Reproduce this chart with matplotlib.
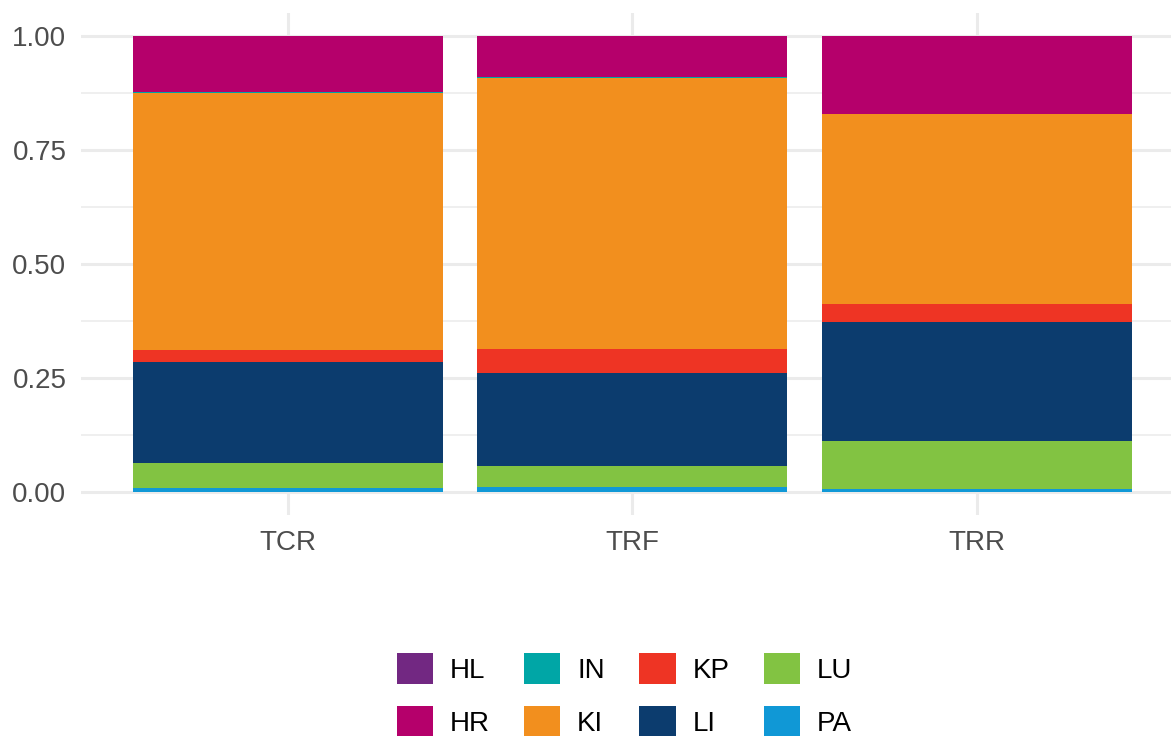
import matplotlib
matplotlib.use("Agg")
import matplotlib.pyplot as plt
import numpy as np

plt.rcParams['font.family'] = ['Liberation Sans', 'DejaVu Sans']

# data: share of each class per group (stacked to 1)
groups = ['TCR', 'TRF', 'TRR']
classes = ['HL', 'HR', 'IN', 'KI', 'KP', 'LI', 'LU', 'PA']
shares = {
    'HL': [0.001, 0.001, 0.001],
    'HR': [0.122, 0.090, 0.169],
    'IN': [0.002, 0.002, 0.002],
    'KI': [0.564, 0.593, 0.416],
    'KP': [0.027, 0.054, 0.039],
    'LI': [0.220, 0.203, 0.261],
    'LU': [0.055, 0.046, 0.105],
    'PA': [0.009, 0.011, 0.007],
}
colors = {
    'HL': '#722882', 'HR': '#B5006B', 'IN': '#00A6A6', 'KI': '#F28F1E',
    'KP': '#EE3424', 'LI': '#0C3C6E', 'LU': '#82C342', 'PA': '#1098D6',
}
y_ticks = [0.0, 0.25, 0.5, 0.75, 1.0]
y_tick_labels = ['0.00', '0.25', '0.50', '0.75', '1.00']

fig = plt.figure(figsize=(11.71, 7.37), dpi=100)
ax = fig.add_axes([81 / 1171, 1 - 514.8 / 737, 1 - 81 / 1171, (514.8 - 13.2) / 737])

x = np.arange(1, len(groups) + 1)
bottom = np.zeros(len(groups))
handles = {}
# ggplot stacks the last level at the bottom
for c in reversed(classes):
    vals = np.array(shares[c])
    handles[c] = ax.bar(x, vals, width=0.9, bottom=bottom, color=colors[c],
                        linewidth=0, zorder=3)
    bottom += vals

ax.set_xlim(0.4, 3.564)
ax.set_ylim(-0.05, 1.05)
ax.set_xticks(x)
ax.set_xticklabels(groups)
ax.set_yticks(y_ticks)
ax.set_yticklabels(y_tick_labels)
ax.set_yticks([0.125, 0.375, 0.625, 0.875], minor=True)
ax.grid(True, which='major', color='#EBEBEB', linewidth=2.2, zorder=0)
ax.grid(True, which='minor', axis='y', color='#EBEBEB', linewidth=1.1, zorder=0)
ax.tick_params(which='both', length=0)
ax.tick_params(axis='y', labelsize=20, labelcolor='#4D4D4D', pad=10.5)
ax.tick_params(axis='x', labelsize=20, labelcolor='#4D4D4D', pad=11)
for s in ax.spines.values():
    s.set_visible(False)

fig.legend([handles[c] for c in classes], classes, ncol=4, loc='center',
           bbox_to_anchor=(624.5 / 1171, 1 - 695 / 737), frameon=False,
           fontsize=20, handlelength=1.3, handleheight=1.3, handletextpad=0.6,
           columnspacing=1.25, labelspacing=0.8, borderpad=0)

fig.savefig('out.png', dpi=100)
